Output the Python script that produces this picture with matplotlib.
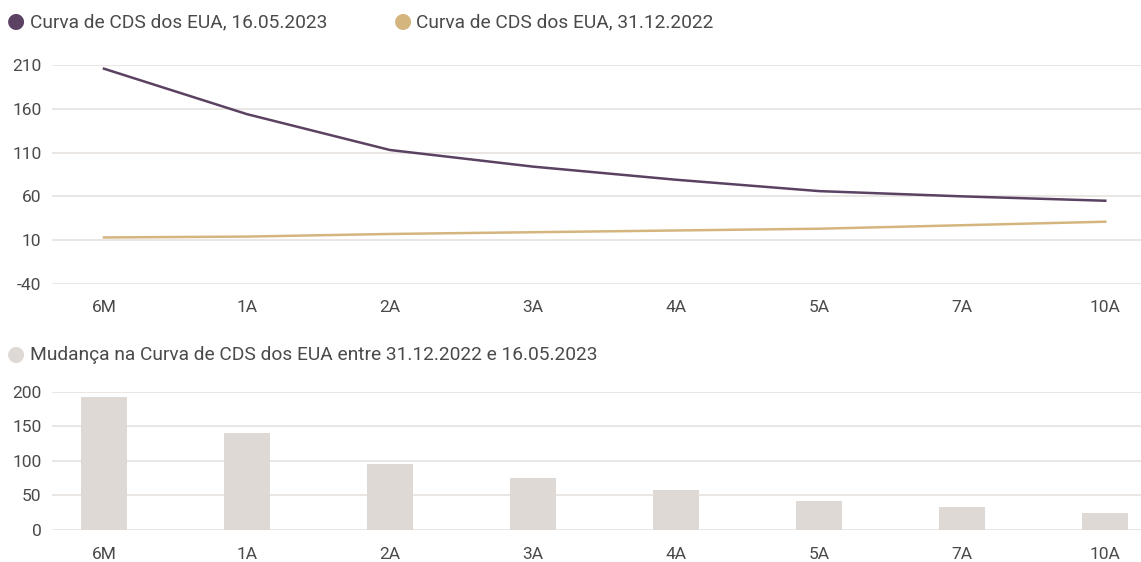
import matplotlib.pyplot as plt

plt.rcParams['font.family'] = ['Roboto', 'DejaVu Sans']
plt.rcParams['axes.unicode_minus'] = False

prazos = ['6M', '1A', '2A', '3A', '4A', '5A', '7A', '10A']
cds_maio = [206, 154, 113, 94, 79, 66, 60, 55]
cds_dez = [13, 14, 17, 19, 21, 23, 27, 31]
mudanca = [193, 140, 96, 75, 58, 42, 33, 24]

roxo = '#5B4262'
dourado = '#D4B57E'
cinza_barra = '#DED9D5'
grade = '#E6E2DE'
texto = '#4A4A4A'

fig = plt.figure(figsize=(11.41, 5.62), dpi=100)

ax1 = fig.add_axes([0.046, 0.495, 0.954, 0.389])
x = range(len(prazos))
ax1.plot(x, cds_maio, color=roxo, lw=1.8)
ax1.plot(x, cds_dez, color=dourado, lw=1.8)
ax1.set_ylim(-40, 210)
ax1.set_yticks(range(-40, 211, 50))
ax1.set_xlim(-0.36, 7.25)
ax1.set_xticks(list(x))
ax1.set_xticklabels(prazos)

ax2 = fig.add_axes([0.046, 0.057, 0.954, 0.2455])
ax2.bar(x, mudanca, width=0.32, color=cinza_barra)
ax2.set_ylim(0, 200)
ax2.set_yticks(range(0, 201, 50))
ax2.set_xlim(-0.36, 7.25)
ax2.set_xticks(list(x))
ax2.set_xticklabels(prazos)

for ax in (ax1, ax2):
    for s in ax.spines.values():
        s.set_visible(False)
    ax.grid(axis='y', color=grade, lw=1.2)
    ax.set_axisbelow(True)
    ax.tick_params(length=0, labelsize=12.5, labelcolor=texto)
    ax.tick_params(axis='y', pad=8)
    ax.tick_params(axis='x', pad=12)

# legendas no topo
fig.text(0.006, 0.962, '\u25CF', color=roxo, fontsize=15, va='center')
fig.text(0.026, 0.96, 'Curva de CDS dos EUA, 16.05.2023', color=texto, fontsize=13.8, va='center')
fig.text(0.345, 0.962, '\u25CF', color=dourado, fontsize=15, va='center')
fig.text(0.3645, 0.96, 'Curva de CDS dos EUA, 31.12.2022', color=texto, fontsize=13.8, va='center')
fig.text(0.006, 0.370, '\u25CF', color=cinza_barra, fontsize=15, va='center')
fig.text(0.026, 0.368, 'Mudança na Curva de CDS dos EUA entre 31.12.2022 e 16.05.2023',
         color=texto, fontsize=13.8, va='center')

fig.savefig('out.png', dpi=100)
